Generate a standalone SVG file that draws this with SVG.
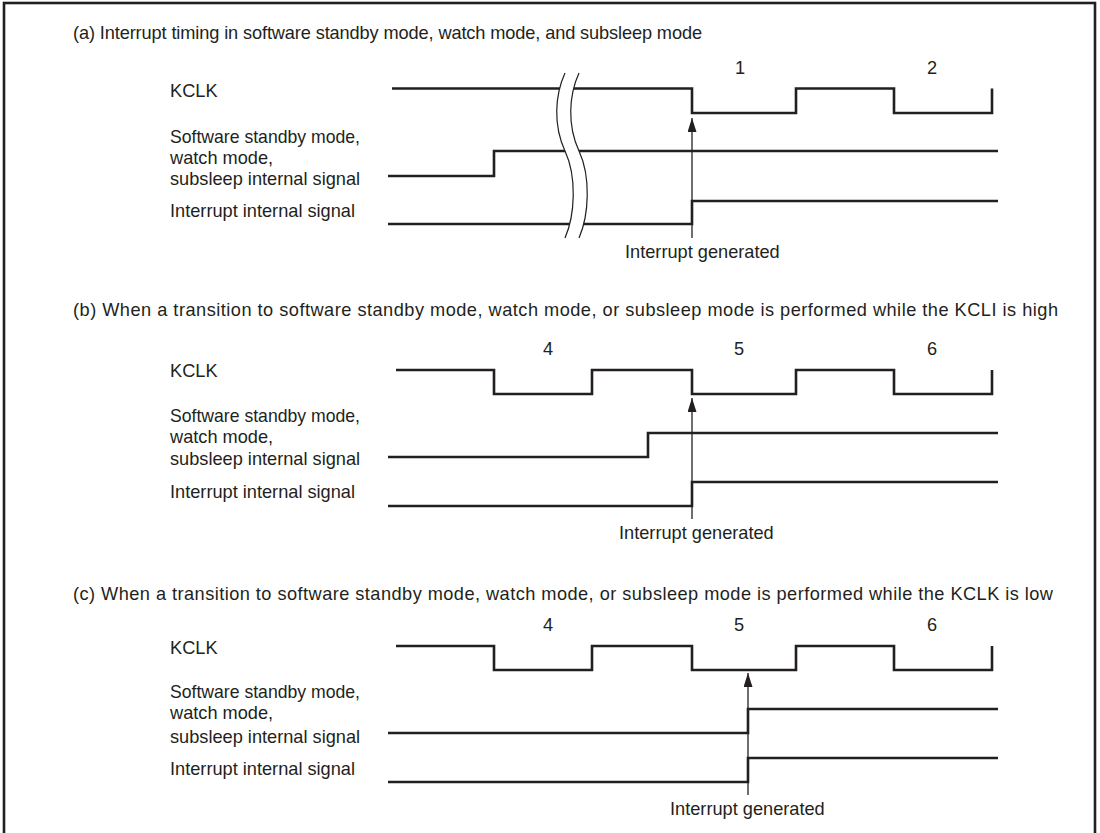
<svg xmlns="http://www.w3.org/2000/svg" width="1100" height="833" viewBox="0 0 1100 833">
<style>
text{font-family:"Liberation Sans",Arial,sans-serif;font-size:18.2px;fill:#231f20}
.sig{fill:none;stroke:#231f20;stroke-width:2.6;stroke-linejoin:miter}
.arr{fill:none;stroke:#231f20;stroke-width:1.3}
.brk{fill:none;stroke:#231f20;stroke-width:1.2}
.mid{text-anchor:middle}
</style>
<defs>
<marker id="ah" viewBox="0 0 14 9" refX="14" refY="4.5" markerWidth="14" markerHeight="9" markerUnits="userSpaceOnUse" orient="auto">
<path d="M0,0 L14,4.5 L0,9 Z" fill="#231f20"/>
</marker>
</defs>
<rect x="4" y="3" width="1091" height="860" fill="#fff" stroke="#231f20" stroke-width="2.6"/>

<g id="partA">
<text x="73" y="39" textLength="629" lengthAdjust="spacing">(a) Interrupt timing in software standby mode, watch mode, and subsleep mode</text>
<g id="a-labels">
<text x="170" y="97">KCLK</text>
<text x="170" y="143" textLength="190" lengthAdjust="spacingAndGlyphs">Software standby mode,</text>
<text x="170" y="164">watch mode,</text>
<text x="170" y="185">subsleep internal signal</text>
<text x="170" y="217">Interrupt internal signal</text>
<text class="mid" x="740" y="74">1</text>
<text class="mid" x="932" y="74">2</text>
</g>
<g id="a-kclk"><path class="sig" d="M392,88.5 H692 V113 H796 V88.5 H894 V113 H992 V88.5"/></g>
<g id="a-standby"><path class="sig" d="M388,176 H494 V151 H998"/></g>
<g id="a-int"><path class="sig" d="M388,224 H692 V201 H998"/></g>
<g id="a-break">
<path d="M565,73 C555,95 553,125 565,151 S575,215 565,238 L579,238 C589,215 591,177 579,151 S569,95 579,73 Z" fill="#fff" stroke="none"/>
<path class="brk" d="M565,73 C555,95 553,125 565,151 S575,215 565,238"/>
<path class="brk" d="M579,73 C569,95 567,125 579,151 S589,215 579,238"/>
</g>
<g id="a-note"><text x="625" y="258">Interrupt generated</text></g>
</g>

<g id="partB">
<text x="73" y="316" textLength="985" lengthAdjust="spacing">(b) When a transition to software standby mode, watch mode, or subsleep mode is performed while the KCLI is high</text>
<g id="b-labels">
<text x="170" y="377">KCLK</text>
<text x="170" y="422" textLength="190" lengthAdjust="spacingAndGlyphs">Software standby mode,</text>
<text x="170" y="443">watch mode,</text>
<text x="170" y="465">subsleep internal signal</text>
<text x="170" y="498">Interrupt internal signal</text>
<text class="mid" x="548" y="355">4</text>
<text class="mid" x="739" y="355">5</text>
<text class="mid" x="932" y="355">6</text>
</g>
<g id="b-kclk"><path class="sig" d="M396,370 H494 V394 H592 V370 H692 V394 H796 V370 H894 V394 H992 V370"/></g>
<g id="b-standby"><path class="sig" d="M388,457 H648 V433 H998"/></g>
<g id="b-int"><path class="sig" d="M388,506 H692 V482 H998"/></g>
<g id="b-note"><text x="619" y="539">Interrupt generated</text></g>
</g>

<g id="partC">
<text x="73" y="600" textLength="980" lengthAdjust="spacing">(c) When a transition to software standby mode, watch mode, or subsleep mode is performed while the KCLK is low</text>
<g id="c-labels">
<text x="170" y="654">KCLK</text>
<text x="170" y="698" textLength="190" lengthAdjust="spacingAndGlyphs">Software standby mode,</text>
<text x="170" y="719">watch mode,</text>
<text x="170" y="743">subsleep internal signal</text>
<text x="170" y="775">Interrupt internal signal</text>
<text class="mid" x="548" y="631">4</text>
<text class="mid" x="739" y="631">5</text>
<text class="mid" x="932" y="631">6</text>
</g>
<g id="c-kclk"><path class="sig" d="M396,646 H494 V670 H592 V646 H692 V670 H796 V646 H894 V670 H992 V646"/></g>
<g id="c-standby"><path class="sig" d="M388,733 H748 V709 H998"/></g>
<g id="c-int"><path class="sig" d="M388,782 H748 V758 H998"/></g>
<g id="c-note"><text x="670" y="815">Interrupt generated</text></g>
</g>

<g id="connectors">
<line class="arr" x1="692" y1="238" x2="692" y2="118" marker-end="url(#ah)"/>
<line class="arr" x1="692" y1="519" x2="692" y2="398" marker-end="url(#ah)"/>
<line class="arr" x1="748" y1="795" x2="748" y2="673" marker-end="url(#ah)"/>
</g>
</svg>
